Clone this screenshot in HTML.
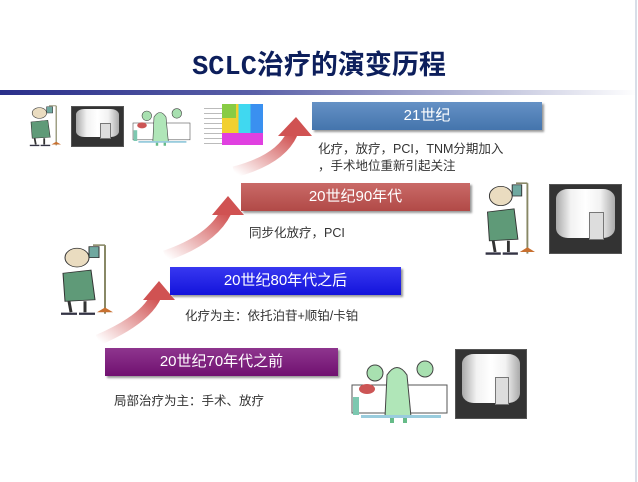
<!DOCTYPE html>
<html><head><meta charset="utf-8"><style>
body{margin:0;width:638px;height:482px;background:#fff;position:relative;overflow:hidden;font-family:"Liberation Sans","Noto Sans CJK SC",sans-serif}
.a{position:absolute}
.box{position:absolute;color:#fff;font-size:15px;text-align:center;line-height:28px;box-shadow:2px 2px 2px #999;background-image:linear-gradient(180deg,rgba(255,255,255,.15),rgba(0,0,0,.08))}
.t{position:absolute;font-size:12.5px;color:#333;white-space:nowrap}
.img{position:absolute;background:#333;border:1px solid #555;overflow:hidden}
.img::before{content:"";position:absolute;left:8%;right:8%;top:6%;bottom:22%;background:linear-gradient(90deg,#aaa,#f2f2f2 25%,#fff 50%,#f2f2f2 75%,#aaa);border-radius:20%}
.img::after{content:"";position:absolute;left:55%;top:40%;width:18%;height:38%;background:#ddd;border:1px solid #777}
</style></head><body>
<svg width="0" height="0" style="position:absolute"><defs>
<g id="pt">
<line x1="52" y1="4" x2="52" y2="92" stroke="#886" stroke-width="2"/>
<line x1="40" y1="4" x2="52" y2="4" stroke="#886" stroke-width="2"/>
<rect x="36" y="6" width="10" height="14" fill="#6fa8a0" stroke="#333"/>
<path d="M44,90 L60,90 L52,84 Z" fill="#c87030"/>
<circle cx="24" cy="20" r="12" fill="#eadcc0" stroke="#333"/>
<path d="M10,40 L38,36 L42,74 L12,76 Z" fill="#5f9a78" stroke="#333"/>
<path d="M16,76 L18,90 M32,76 L32,90" stroke="#333" stroke-width="3"/>
<path d="M8,92 L24,92 M26,92 L42,92" stroke="#334" stroke-width="3"/>
</g>
<g id="sg">
<rect x="5" y="30" width="95" height="28" fill="#fff" stroke="#555"/>
<rect x="6" y="42" width="6" height="18" fill="#7cc8b0"/>
<circle cx="28" cy="18" r="8" fill="#a8e0b0" stroke="#444"/>
<circle cx="78" cy="14" r="8" fill="#a8e0b0" stroke="#444"/>
<path d="M40,20 Q50,5 60,20 L64,62 L38,62 Z" fill="#b0e6b8" stroke="#444"/>
<path d="M45,62 L45,68 M58,62 L58,68" stroke="#6b8" stroke-width="4"/>
<rect x="14" y="60" width="80" height="3" fill="#9cd"/>
<ellipse cx="20" cy="34" rx="8" ry="5" fill="#c55"/>
</g>
</defs></svg>

<div class="a" style="left:0;top:43px;width:638px;text-align:center;font-size:27px;font-weight:bold;color:#0d1f5c;font-family:'Liberation Mono','Noto Sans CJK SC',sans-serif">SCLC治疗的演变历程</div>
<div class="a" style="left:0;top:90px;width:638px;height:5px;background:linear-gradient(90deg,#2a2f8a,#5a60a8 40%,#c8cae0 80%,#fff)"></div>
<div class="a" style="left:635px;top:0;width:2px;height:482px;background:#d8dee8"></div>

<svg class="a" style="left:0;top:0" width="638" height="482">
<defs><linearGradient id="g" x1="0" y1="1" x2="1" y2="0"><stop offset="0" stop-color="#fff"/><stop offset="1" stop-color="#d05050"/></linearGradient></defs>
<path d="M98,340 Q145,320 156,296" stroke="url(#g)" stroke-width="11" fill="none"/>
<polygon points="159,281 143,300 175,300" fill="#d05252"/>
<path d="M165,256 Q212,240 226,212" stroke="url(#g)" stroke-width="11" fill="none"/>
<polygon points="228,196 212,215 244,215" fill="#d05252"/>
<path d="M234,172 Q280,160 292,134" stroke="url(#g)" stroke-width="11" fill="none"/>
<polygon points="296,117 278,136 312,136" fill="#d05252"/>
<use href="#pt" transform="translate(25,104) scale(0.6,0.45)"/>
<use href="#pt" transform="translate(53,242) scale(1.0,0.78)"/>
<use href="#pt" transform="translate(478,180) scale(0.95,0.8)"/>
<use href="#sg" transform="translate(130,105) scale(0.6,0.6)"/>
<use href="#sg" transform="translate(347,355)"/>
</svg>

<div class="box" style="left:312px;top:102px;width:230px;background-color:#4a7ebb">21世纪</div>
<div class="t" style="left:318px;top:138px">化疗，放疗，PCI，TNM分期加入</div>
<div class="t" style="left:318px;top:155px">，手术地位重新引起关注</div>
<div class="box" style="left:241px;top:183px;width:229px;background-color:#c0504d">20世纪90年代</div>
<div class="t" style="left:249px;top:222px">同步化放疗，PCI</div>
<div class="box" style="left:170px;top:267px;width:231px;background-color:#1515ee">20世纪80年代之后</div>
<div class="t" style="left:185px;top:305px">化疗为主：依托泊苷+顺铂/卡铂</div>
<div class="box" style="left:105px;top:348px;width:233px;background-color:#7a127a">20世纪70年代之前</div>
<div class="t" style="left:114px;top:390px">局部治疗为主：手术、放疗</div>

<div class="img" style="left:71px;top:106px;width:51px;height:39px"></div>
<div class="img" style="left:549px;top:184px;width:71px;height:68px"></div>
<div class="img" style="left:455px;top:349px;width:70px;height:68px"></div>
<div class="a" style="left:204px;top:104px;width:18px;height:41px;background:repeating-linear-gradient(180deg,#fff 0 4px,#bbb 4px 5px)"></div>
<div class="a" style="left:222px;top:104px;width:41px;height:41px;background:linear-gradient(90deg,#f2d030 0 40%,#40d8f0 40% 70%,#3a90f0 70%)"></div>
<div class="a" style="left:222px;top:104px;width:14px;height:14px;background:#8c4"></div>
<div class="a" style="left:222px;top:133px;width:41px;height:12px;background:#e040e0"></div>
</body></html>
